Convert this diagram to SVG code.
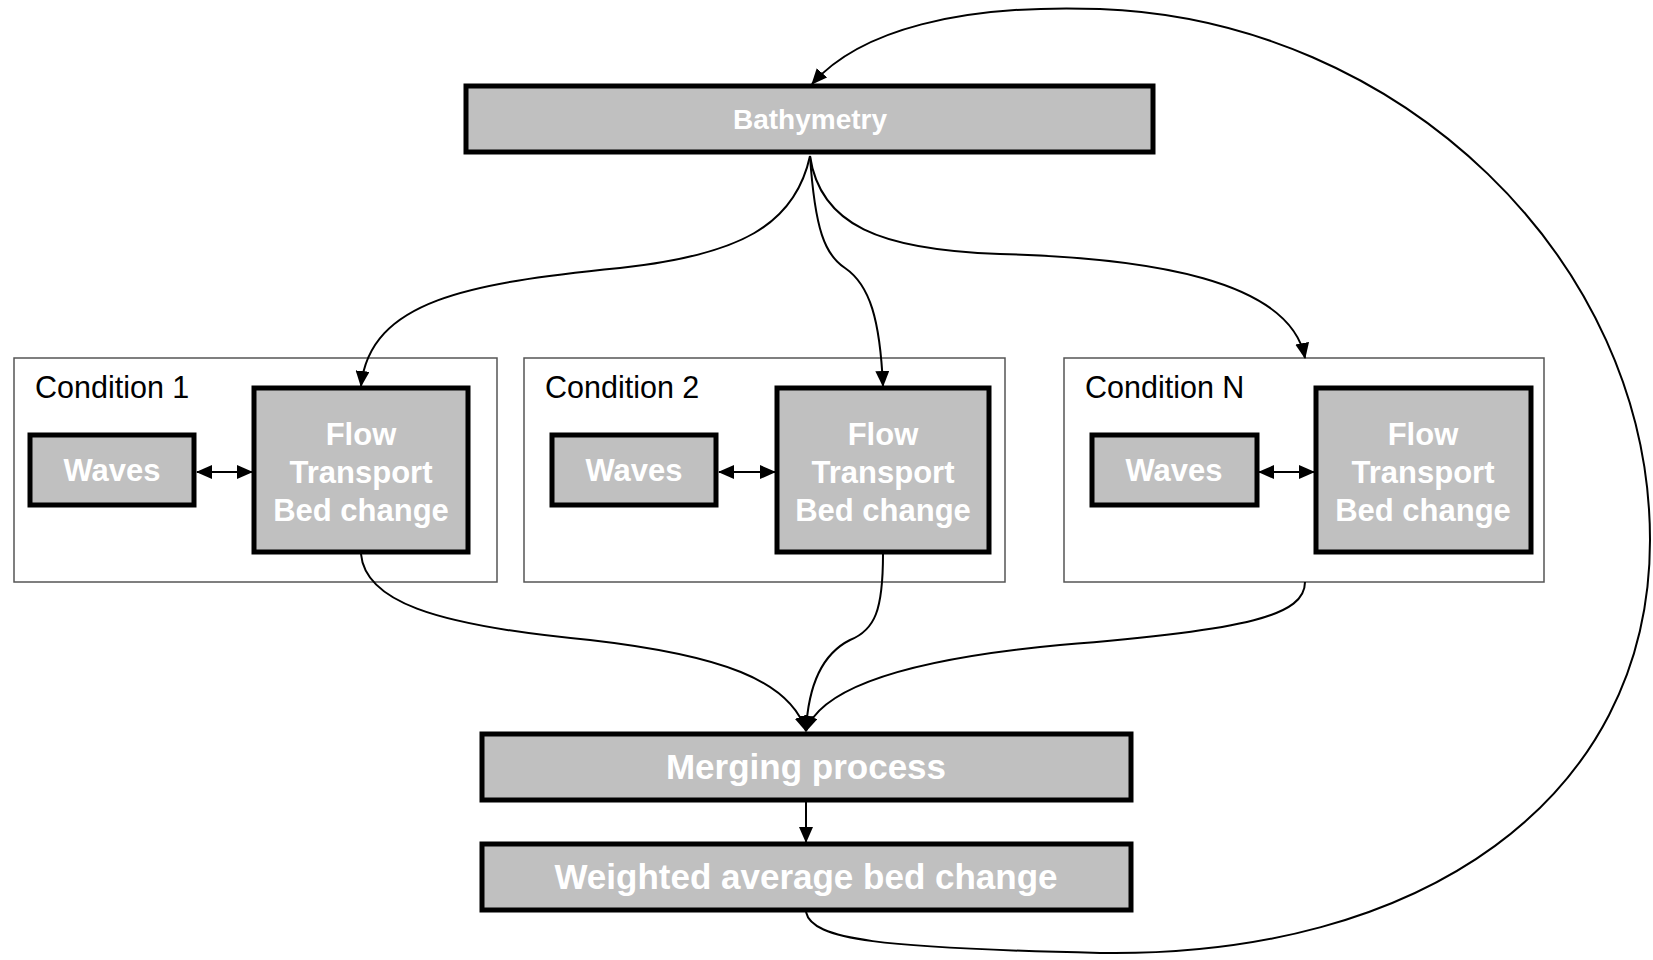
<svg xmlns="http://www.w3.org/2000/svg" width="1653" height="960" viewBox="0 0 1653 960">
<style>
.box{fill:#c0c0c0;stroke:#000;stroke-width:5}
.frame{fill:#fff;stroke:#555;stroke-width:1.5}
.wt{fill:#fff;font-family:"Liberation Sans",Arial,sans-serif;font-weight:bold;text-anchor:middle}
.lbl{fill:#000;font-family:"Liberation Sans",Arial,sans-serif;font-size:30.5px}
.con{fill:none;stroke:#000;stroke-width:2}
</style>
<defs>
<marker id="ah" markerWidth="16" markerHeight="14" refX="15" refY="7" orient="auto" markerUnits="userSpaceOnUse">
<path d="M0,0 L16,7 L0,14 Z" fill="#000"/>
</marker>
<marker id="as" markerWidth="16" markerHeight="14" refX="1" refY="7" orient="auto" markerUnits="userSpaceOnUse">
<path d="M16,0 L0,7 L16,14 Z" fill="#000"/>
</marker>
</defs>
<rect width="1653" height="960" fill="#fff"/>

<g id="bathymetry">
<rect class="box" x="466" y="86" width="687" height="66"/>
<text class="wt" x="810" y="129" font-size="28">Bathymetry</text>
</g>

<g id="condition1">
<rect class="frame" x="14" y="358" width="483" height="224"/>
<text class="lbl" x="35" y="398">Condition 1</text>
</g>
<g id="waves1">
<rect class="box" x="30" y="435" width="164" height="70"/>
<text class="wt" x="112" y="481" font-size="31">Waves</text>
</g>
<g id="flow1">
<rect class="box" x="254" y="388" width="214" height="164"/>
<text class="wt" x="361" y="445" font-size="31">Flow</text>
<text class="wt" x="361" y="483" font-size="31">Transport</text>
<text class="wt" x="361" y="521" font-size="31">Bed change</text>
</g>

<g id="condition2">
<rect class="frame" x="524" y="358" width="481" height="224"/>
<text class="lbl" x="545" y="398">Condition 2</text>
</g>
<g id="waves2">
<rect class="box" x="552" y="435" width="164" height="70"/>
<text class="wt" x="634" y="481" font-size="31">Waves</text>
</g>
<g id="flow2">
<rect class="box" x="777" y="388" width="212" height="164"/>
<text class="wt" x="883" y="445" font-size="31">Flow</text>
<text class="wt" x="883" y="483" font-size="31">Transport</text>
<text class="wt" x="883" y="521" font-size="31">Bed change</text>
</g>

<g id="conditionN">
<rect class="frame" x="1064" y="358" width="480" height="224"/>
<text class="lbl" x="1085" y="398">Condition N</text>
</g>
<g id="wavesN">
<rect class="box" x="1092" y="435" width="165" height="70"/>
<text class="wt" x="1174" y="481" font-size="31">Waves</text>
</g>
<g id="flowN">
<rect class="box" x="1316" y="388" width="215" height="164"/>
<text class="wt" x="1423" y="445" font-size="31">Flow</text>
<text class="wt" x="1423" y="483" font-size="31">Transport</text>
<text class="wt" x="1423" y="521" font-size="31">Bed change</text>
</g>

<g id="merging">
<rect class="box" x="482" y="734" width="649" height="66"/>
<text class="wt" x="806" y="779" font-size="35">Merging process</text>
</g>
<g id="weighted">
<rect class="box" x="482" y="844" width="649" height="66"/>
<text class="wt" x="806" y="889" font-size="35">Weighted average bed change</text>
</g>

<g id="connectors">
<path class="con" d="M810,156 C795,225 740,255 620,268 C470,283 370,300 361,386" marker-end="url(#ah)"/>
<path class="con" d="M810,156 C815,230 825,255 845,268 C870,285 880,320 883,386" marker-end="url(#ah)"/>
<path class="con" d="M810,156 C820,225 880,250 1000,254 C1150,258 1290,280 1305,358" marker-end="url(#ah)"/>
<path class="con" d="M361,554 C365,600 430,625 590,640 C720,655 790,680 806,731" marker-end="url(#ah)"/>
<path class="con" d="M883,554 C883,610 875,630 850,640 C820,655 808,690 806,731" marker-end="url(#ah)"/>
<path class="con" d="M1305,582 C1305,615 1250,630 1060,645 C900,660 820,690 806,731" marker-end="url(#ah)"/>
<path class="con" d="M806,802 L806,842" marker-end="url(#ah)"/>
<path class="con" d="M806,912 C812,940 880,948 1100,953 C1420,958 1650,800 1650,540 C1650,260 1400,20 1100,9 C960,4 860,30 812,84" marker-end="url(#ah)"/>
<path class="con" d="M197,472 L252,472" marker-start="url(#as)" marker-end="url(#ah)"/>
<path class="con" d="M719,472 L775,472" marker-start="url(#as)" marker-end="url(#ah)"/>
<path class="con" d="M1259,472 L1314,472" marker-start="url(#as)" marker-end="url(#ah)"/>
</g>
</svg>
